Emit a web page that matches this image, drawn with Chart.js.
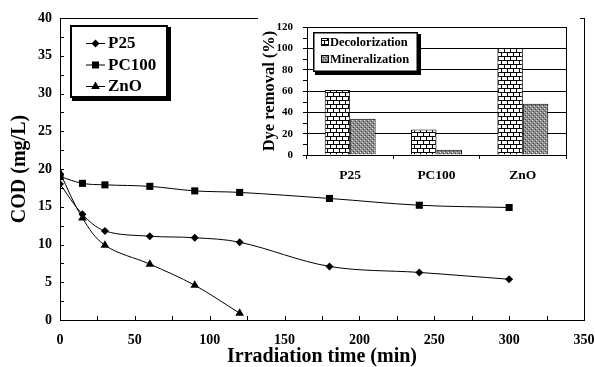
<!DOCTYPE html>
<html>
<head>
<meta charset="utf-8">
<script src="https://cdn.jsdelivr.net/npm/chart.js@4.4.1/dist/chart.umd.min.js"></script>
<style>
    html, body { margin: 0; padding: 0; background: #fff; }
    #wrap { position: relative; width: 595px; height: 367px; }
    #main { position: absolute; left: 0; top: 0; }
    #inset { position: absolute; left: 258px; top: 0; }
</style>
</head>
<body>
<div id="wrap">
    <canvas id="main" width="595" height="367"></canvas>
    <canvas id="inset" width="322" height="186"></canvas>
</div>
<script>
// COD decay curves (mg/L) vs irradiation time (min)
const times = [0, 15, 30, 60, 90, 120, 180, 240, 300];
const codP25 = [18.0, 14.0, 11.8, 11.1, 10.9, 10.3, 7.1, 6.3, 5.4];
const codPC100 = [19.0, 18.1, 17.9, 17.7, 17.1, 16.9, 16.1, 15.2, 14.9];
const znoTimes = [0, 15, 30, 60, 90, 120];
const codZnO = [19.5, 13.5, 9.9, 7.4, 4.6, 0.9];

// inset: dye removal (%)
const catalysts = ['P25', 'PC100', 'ZnO'];
const decolorization = [61, 24, 100];
const mineralization = [34, 5, 48];

const SERIF = "'Liberation Serif', 'Times New Roman', serif";

function toPoints(xs, ys) {
    return xs.map((t, i) => ({ x: t, y: ys[i] }));
}

// --- fill patterns for the inset bars ---
function brickPattern() {
    const c = document.createElement('canvas');
    c.width = 6; c.height = 8;
    const g = c.getContext('2d');
    g.fillStyle = '#fff';
    g.fillRect(0, 0, 6, 8);
    g.fillStyle = '#000';
    g.fillRect(0, 0, 6, 1);
    g.fillRect(0, 4, 6, 1);
    g.fillRect(0, 0, 1, 4);
    g.fillRect(3, 4, 1, 4);
    return g.createPattern(c, 'repeat');
}

function dotPattern() {
    const c = document.createElement('canvas');
    c.width = 4; c.height = 4;
    const g = c.getContext('2d');
    g.fillStyle = '#8c8c8c';
    g.fillRect(0, 0, 4, 4);
    g.fillStyle = '#444';
    g.fillRect(1, 1, 1, 1);
    g.fillRect(3, 3, 1, 1);
    g.fillStyle = '#e0e0e0';
    g.fillRect(0, 2, 1, 1);
    g.fillRect(2, 0, 1, 1);
    return g.createPattern(c, 'repeat');
}

function marker(ctx, style, x, y) {
    ctx.beginPath();
    if (style === 'diamond') {
        ctx.moveTo(x - 4, y); ctx.lineTo(x, y - 4); ctx.lineTo(x + 4, y); ctx.lineTo(x, y + 4);
    } else if (style === 'square') {
        ctx.rect(x - 3.5, y - 3.5, 7, 7);
    } else {
        ctx.moveTo(x, y - 5); ctx.lineTo(x + 4.3, y + 2.5); ctx.lineTo(x - 4.3, y + 2.5);
    }
    ctx.closePath();
    ctx.fill();
}

// inward ticks, plot frame and boxed legend for the main chart
const mainDecor = {
    id: 'mainDecor',
    afterDraw(chart) {
        const { ctx, chartArea: a, scales: { x, y } } = chart;
        ctx.save();
        ctx.strokeStyle = '#000';
        ctx.lineWidth = 1;
        ctx.beginPath();
        for (let v = 0; v <= 40; v += 2.5) {
            const py = Math.round(y.getPixelForValue(v)) + 0.5;
            ctx.moveTo(a.left, py); ctx.lineTo(a.left + 4, py);
        }
        for (let v = 0; v <= 350; v += 25) {
            const px = Math.round(x.getPixelForValue(v)) + 0.5;
            ctx.moveTo(px, a.bottom); ctx.lineTo(px, a.bottom - 4);
        }
        ctx.stroke();
        ctx.strokeRect(Math.round(a.left) + 0.5, Math.round(a.top) + 0.5,
            Math.round(a.right - a.left), Math.round(a.bottom - a.top));

        // legend box
        ctx.fillStyle = '#000';
        ctx.fillRect(72, 27, 99, 74);
        ctx.fillStyle = '#fff';
        ctx.fillRect(70, 25, 98, 73);
        ctx.lineWidth = 2;
        ctx.strokeRect(71, 26, 96, 71);

        const rows = [['P25', 'diamond'], ['PC100', 'square'], ['ZnO', 'triangle']];
        ctx.font = 'bold 17px ' + SERIF;
        ctx.textBaseline = 'middle';
        rows.forEach((r, i) => {
            const ry = 43 + i * 21.5;
            ctx.strokeStyle = '#000';
            ctx.lineWidth = 1;
            ctx.beginPath();
            ctx.moveTo(86, ry + 0.5); ctx.lineTo(105, ry + 0.5);
            ctx.stroke();
            ctx.fillStyle = '#000';
            marker(ctx, r[1], 95.5, ry + 0.5);
            ctx.fillText(r[0], 108, ry + 1);
        });
        ctx.restore();
    }
};

const lineStyle = {
    borderColor: '#000',
    backgroundColor: '#000',
    borderWidth: 1,
    pointBorderWidth: 0,
    showLine: true,
    tension: 0.35
};

new Chart(document.getElementById('main'), {
    type: 'scatter',
    data: {
        datasets: [
            { ...lineStyle, label: 'P25', data: toPoints(times, codP25), pointStyle: 'rectRot', pointRadius: 4 },
            { ...lineStyle, label: 'PC100', data: toPoints(times, codPC100), pointStyle: 'rect', pointRadius: 5 },
            { ...lineStyle, label: 'ZnO', data: toPoints(znoTimes, codZnO), pointStyle: 'triangle', pointRadius: 5 }
        ]
    },
    options: {
        responsive: false,
        animation: false,
        devicePixelRatio: 1,
        layout: { padding: { top: 18, right: 0, left: 0, bottom: 0 } },
        plugins: { legend: { display: false }, tooltip: { enabled: false } },
        scales: {
            x: {
                type: 'linear', min: 0, max: 350,
                ticks: { stepSize: 50, color: '#000', padding: 12, maxRotation: 0,
                    font: { family: SERIF, size: 14, weight: 'bold' } },
                grid: { display: false, drawTicks: false },
                border: { display: true, color: '#000', width: 1 },
                title: { display: true, text: 'Irradiation time (min)', color: '#000',
                    padding: 0, font: { family: SERIF, size: 20, weight: 'bold', lineHeight: 1 } },
                afterFit(s) { s.height = 47; s.paddingRight = 11; s.paddingLeft = 0; }
            },
            y: {
                min: 0, max: 40,
                ticks: { stepSize: 5, color: '#000', padding: 8,
                    font: { family: SERIF, size: 14, weight: 'bold' } },
                grid: { display: false, drawTicks: false },
                border: { display: true, color: '#000', width: 1 },
                title: { display: true, text: 'COD (mg/L)', color: '#000',
                    padding: { top: 10, bottom: 0 }, font: { family: SERIF, size: 20, weight: 'bold', lineHeight: 1 } },
                afterFit(s) { s.width = 60; }
            }
        }
    },
    plugins: [mainDecor]
});

// inset: white backdrop, minor ticks, frame and legend
const insetDecor = {
    id: 'insetDecor',
    beforeDraw(chart) {
        const { ctx, width, height } = chart;
        ctx.save();
        ctx.fillStyle = '#fff';
        ctx.fillRect(0, 0, width, height);
        ctx.restore();
    },
    afterDraw(chart) {
        const { ctx, chartArea: a, scales: { y } } = chart;
        ctx.save();
        ctx.strokeStyle = '#000';
        ctx.lineWidth = 1;
        ctx.beginPath();
        for (let v = 10; v < 120; v += 20) {
            const py = Math.round(y.getPixelForValue(v)) + 0.5;
            ctx.moveTo(a.left, py); ctx.lineTo(a.left - 4, py);
        }
        ctx.stroke();
        ctx.strokeRect(Math.round(a.left) + 0.5, Math.round(a.top) + 0.5,
            Math.round(a.right - a.left), Math.round(a.bottom - a.top));

        // legend box (inset coords: canvas left at 258)
        const lx = 313 - 258, ly = 32;
        ctx.fillStyle = '#000';
        ctx.fillRect(lx + 2, ly + 2, 106, 41);
        ctx.fillStyle = '#fff';
        ctx.fillRect(lx, ly, 105, 40);
        ctx.lineWidth = 1.5;
        ctx.strokeRect(lx + 0.75, ly + 0.75, 103.5, 38.5);

        const items = [['Decolorization', patterns.brick], ['Mineralization', patterns.dots]];
        ctx.font = 'bold 12.5px ' + SERIF;
        ctx.textBaseline = 'middle';
        items.forEach((it, i) => {
            const ry = 42 + i * 17;
            ctx.fillStyle = it[1];
            ctx.fillRect(lx + 8, ry - 4, 8, 8);
            ctx.lineWidth = 1;
            ctx.strokeRect(lx + 8.5, ry - 3.5, 7, 7);
            ctx.fillStyle = '#000';
            ctx.fillText(it[0], lx + 17, ry + 1);
        });
        ctx.restore();
    }
};

const patterns = { brick: brickPattern(), dots: dotPattern() };

new Chart(document.getElementById('inset'), {
    type: 'bar',
    data: {
        labels: catalysts,
        datasets: [
            { label: 'Decolorization', data: decolorization, backgroundColor: patterns.brick,
                borderColor: '#000', borderWidth: 1, categoryPercentage: 0.59, barPercentage: 1.0 },
            { label: 'Mineralization', data: mineralization, backgroundColor: patterns.dots,
                borderColor: '#000', borderWidth: 1, categoryPercentage: 0.59, barPercentage: 1.0 }
        ]
    },
    options: {
        responsive: false,
        animation: false,
        devicePixelRatio: 1,
        layout: { padding: { top: 27, right: 14, left: 0, bottom: 0 } },
        plugins: { legend: { display: false }, tooltip: { enabled: false } },
        scales: {
            x: {
                ticks: { color: '#000', padding: 8,
                    font: { family: SERIF, size: 13.5, weight: 'bold' } },
                grid: { drawOnChartArea: false, drawTicks: true, tickLength: 4, color: '#000', offset: true },
                border: { display: true, color: '#000', width: 1 },
                afterFit(s) { s.height = 31; }
            },
            y: {
                min: 0, max: 120,
                ticks: { stepSize: 20, color: '#000', padding: 10,
                    font: { family: SERIF, size: 11, weight: 'bold' } },
                grid: { color: '#000', lineWidth: 1, drawTicks: true, tickLength: 4 },
                border: { display: true, color: '#000', width: 1 },
                title: { display: true, text: 'Dye removal (%)', color: '#000',
                    padding: { top: 3, bottom: 0 }, font: { family: SERIF, size: 16.5, weight: 'bold', lineHeight: 1 } },
                afterFit(s) { s.width = 49; }
            }
        }
    },
    plugins: [insetDecor]
});
</script>
</body>
</html>
